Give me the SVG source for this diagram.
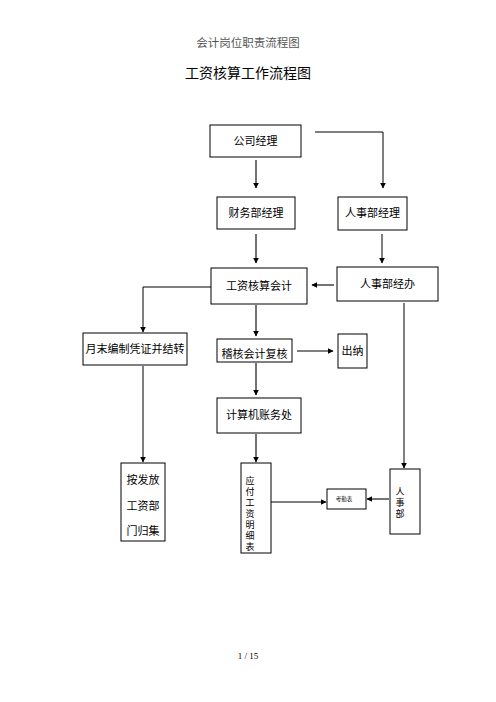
<svg xmlns="http://www.w3.org/2000/svg" width="496" height="702" viewBox="0 0 496 702">
<style>
.box{fill:#fff;stroke:#000;stroke-width:1}
.t{font-family:"Noto Sans CJK SC","Liberation Sans",sans-serif;font-size:11px;fill:#000;text-anchor:middle}
.v{font-family:"Noto Sans CJK SC","Liberation Sans",sans-serif;font-size:9px;fill:#000;writing-mode:vertical-rl;text-anchor:start}
.ln{fill:none;stroke:#000;stroke-width:1}
.lg{fill:none;stroke:#444;stroke-width:1.5}
</style>
<defs>
<marker id="ah" viewBox="0 0 10 10" refX="9" refY="5" markerWidth="6" markerHeight="6" markerUnits="userSpaceOnUse" orient="auto">
<path d="M0,0 L10,5 L0,10 z" fill="#000"/>
</marker>
</defs>
<rect width="496" height="702" fill="#fff"/>
<text x="248" y="47" font-family="'Noto Sans CJK SC',sans-serif" font-size="11.5" fill="#555" text-anchor="middle">会计岗位职责流程图</text>
<text x="248" y="78" font-family="'Noto Sans CJK SC',sans-serif" font-size="14" fill="#000" text-anchor="middle">工资核算工作流程图</text>

<g id="connectors">
<path class="lg" d="M256,160 V188" marker-end="url(#ah)"/>
<path class="ln" d="M315,132 H383 V188" marker-end="url(#ah)"/>
<path class="lg" d="M256,234 V263" marker-end="url(#ah)"/>
<path class="ln" d="M382,234 V263" marker-end="url(#ah)"/>
<path class="lg" d="M334,285 H312" marker-end="url(#ah)"/>
<path class="ln" d="M211,287 H143 V332" marker-end="url(#ah)"/>
<path class="lg" d="M256,305 V336" marker-end="url(#ah)"/>
<path class="ln" d="M297,351 H333" marker-end="url(#ah)"/>
<path class="ln" d="M404,303 V468" marker-end="url(#ah)"/>
<path class="lg" d="M256,363 V395" marker-end="url(#ah)"/>
<path class="lg" d="M256,434 V462" marker-end="url(#ah)"/>
<path class="ln" d="M143,366 V462" marker-end="url(#ah)"/>
<path class="ln" d="M271,502 H326" marker-end="url(#ah)"/>
<path class="lg" d="M389,499 H367" marker-end="url(#ah)"/>
</g>

<g id="n1"><rect class="box" x="210" y="125" width="91" height="32"/><text class="t" x="255.5" y="145">公司经理</text></g>
<g id="n2"><rect class="box" x="217" y="197" width="78" height="32"/><text class="t" x="256" y="217">财务部经理</text></g>
<g id="n3"><rect class="box" x="338" y="197" width="69" height="33"/><text class="t" x="372.5" y="217">人事部经理</text></g>
<g id="n4"><rect class="box" x="211" y="268" width="96" height="36"/><text class="t" x="259" y="290">工资核算会计</text></g>
<g id="n5"><rect class="box" x="337" y="267" width="101" height="34"/><text class="t" x="387.5" y="288">人事部经办</text></g>
<g id="n6"><rect class="box" x="83" y="333" width="104" height="32"/><text class="t" x="135" y="353">月末编制凭证并结转</text></g>
<g id="n7"><rect class="box" x="217" y="339" width="75" height="23"/><text class="t" x="254.5" y="358" font-size="10">稽核会计复核</text></g>
<g id="n8"><rect class="box" x="338" y="334" width="29" height="34"/><text class="t" x="352.5" y="355">出纳</text></g>
<g id="n9"><rect class="box" x="217" y="398" width="84" height="35"/><text class="t" x="259" y="419">计算机账务处</text></g>
<g id="n10"><rect class="box" x="121" y="463" width="44" height="78"/>
<text class="t" x="143" y="484">按发放</text><text class="t" x="143" y="510">工资部</text><text class="t" x="143" y="535">门归集</text></g>
<g id="n11"><rect class="box" x="241" y="463" width="30" height="90"/>
<text class="v" x="250" y="476" letter-spacing="2">应付工资明细表</text></g>
<g id="n12"><rect class="box" x="327" y="489" width="39" height="20"/><text class="t" transform="translate(344,501) scale(0.5)" x="0" y="0" font-size="10">考勤表</text></g>
<g id="n13"><rect class="box" x="390" y="469" width="30" height="65"/>
<text class="v" x="400" y="487" letter-spacing="2">人事部</text></g>

<text x="248" y="659" font-family="'Liberation Serif',serif" font-size="9" fill="#000" text-anchor="middle">1 / 15</text>
</svg>
